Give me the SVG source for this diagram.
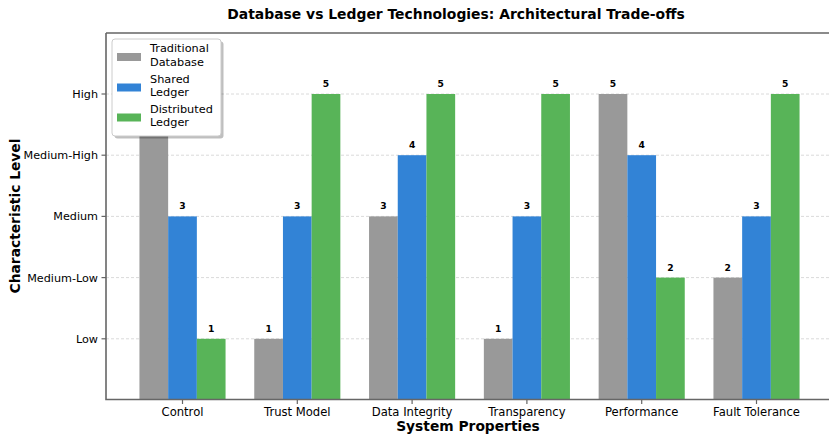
<svg xmlns="http://www.w3.org/2000/svg" width="829" height="436" viewBox="0 0 829 436">
<style>
text{font-family:"DejaVu Sans","Liberation Sans",sans-serif;fill:#000}
.title{font-size:13.9px;font-weight:bold}
.axlab{font-size:13.8px;font-weight:bold}
.tick{font-size:11.6px}
.ytick{font-size:11.2px}
.val{font-size:9.2px;font-weight:bold;text-anchor:middle}
.leg{font-size:11.3px}
.grid{stroke:#dadada;stroke-width:1;stroke-dasharray:3,2}
.spine{stroke:#666;stroke-width:1.6;fill:none}
.tk{stroke:#666;stroke-width:1.2}
.g{fill:#999999}
.b{fill:#3283d6}
.gr{fill:#58b458}
</style>
<rect width="829" height="436" fill="#fff"/>
<text class="title" x="456" y="19" text-anchor="middle">Database vs Ledger Technologies: Architectural Trade-offs</text>
<g id="grid">
<line class="grid" x1="106" y1="94" x2="829" y2="94"/>
<line class="grid" x1="106" y1="155.2" x2="829" y2="155.2"/>
<line class="grid" x1="106" y1="216.4" x2="829" y2="216.4"/>
<line class="grid" x1="106" y1="277.6" x2="829" y2="277.6"/>
<line class="grid" x1="106" y1="338.8" x2="829" y2="338.8"/>
</g>
<g id="bars">
<g id="control">
<rect class="g" x="139.45" y="94" width="28.7" height="306"/>
<rect class="b" x="168.15" y="216.4" width="28.7" height="183.6"/>
<rect class="gr" x="196.85" y="338.8" width="28.7" height="61.2"/>
<text class="val" x="182.5" y="209.4">3</text>
<text class="val" x="211.2" y="331.8">1</text>
</g>
<g id="trust-model">
<rect class="g" x="254.25" y="338.8" width="28.7" height="61.2"/>
<rect class="b" x="282.95" y="216.4" width="28.7" height="183.6"/>
<rect class="gr" x="311.65" y="94" width="28.7" height="306"/>
<text class="val" x="268.6" y="331.8">1</text>
<text class="val" x="297.3" y="209.4">3</text>
<text class="val" x="326" y="87">5</text>
</g>
<g id="data-integrity">
<rect class="g" x="369.05" y="216.4" width="28.7" height="183.6"/>
<rect class="b" x="397.75" y="155.2" width="28.7" height="244.8"/>
<rect class="gr" x="426.45" y="94" width="28.7" height="306"/>
<text class="val" x="383.4" y="209.4">3</text>
<text class="val" x="412.1" y="148.2">4</text>
<text class="val" x="440.8" y="87">5</text>
</g>
<g id="transparency">
<rect class="g" x="483.85" y="338.8" width="28.7" height="61.2"/>
<rect class="b" x="512.55" y="216.4" width="28.7" height="183.6"/>
<rect class="gr" x="541.25" y="94" width="28.7" height="306"/>
<text class="val" x="498.2" y="331.8">1</text>
<text class="val" x="526.9" y="209.4">3</text>
<text class="val" x="555.6" y="87">5</text>
</g>
<g id="performance">
<rect class="g" x="598.65" y="94" width="28.7" height="306"/>
<rect class="b" x="627.35" y="155.2" width="28.7" height="244.8"/>
<rect class="gr" x="656.05" y="277.6" width="28.7" height="122.4"/>
<text class="val" x="613" y="87">5</text>
<text class="val" x="641.7" y="148.2">4</text>
<text class="val" x="670.4" y="270.6">2</text>
</g>
<g id="fault-tolerance">
<rect class="g" x="713.45" y="277.6" width="28.7" height="122.4"/>
<rect class="b" x="742.15" y="216.4" width="28.7" height="183.6"/>
<rect class="gr" x="770.85" y="94" width="28.7" height="306"/>
<text class="val" x="727.8" y="270.6">2</text>
<text class="val" x="756.5" y="209.4">3</text>
<text class="val" x="785.2" y="87">5</text>
</g>
</g>
<g id="axes">
<path class="spine" d="M106,33 H830 M106,33 V399.5 H830"/>
<g class="tk">
<line x1="101.5" y1="94" x2="106" y2="94"/>
<line x1="101.5" y1="155.2" x2="106" y2="155.2"/>
<line x1="101.5" y1="216.4" x2="106" y2="216.4"/>
<line x1="101.5" y1="277.6" x2="106" y2="277.6"/>
<line x1="101.5" y1="338.8" x2="106" y2="338.8"/>
<line x1="182.5" y1="399.5" x2="182.5" y2="404"/>
<line x1="297.3" y1="399.5" x2="297.3" y2="404"/>
<line x1="412.1" y1="399.5" x2="412.1" y2="404"/>
<line x1="526.9" y1="399.5" x2="526.9" y2="404"/>
<line x1="641.7" y1="399.5" x2="641.7" y2="404"/>
<line x1="756.5" y1="399.5" x2="756.5" y2="404"/>
</g>
<g class="ytick" text-anchor="end">
<text x="98" y="98">High</text>
<text x="98" y="159.2">Medium-High</text>
<text x="98" y="220.4">Medium</text>
<text x="98" y="281.6">Medium-Low</text>
<text x="98" y="342.8">Low</text>
</g>
<g class="tick" text-anchor="middle">
<text x="182.5" y="416">Control</text>
<text x="297.3" y="416">Trust Model</text>
<text x="412.1" y="416">Data Integrity</text>
<text x="526.9" y="416">Transparency</text>
<text x="641.7" y="416">Performance</text>
<text x="756.5" y="416">Fault Tolerance</text>
</g>
<text class="axlab" x="468" y="431" text-anchor="middle">System Properties</text>
<text class="axlab" transform="translate(19.5,216) rotate(-90)" text-anchor="middle">Characteristic Level</text>
</g>
<g id="legend">
<rect x="114.5" y="41.5" width="109" height="97" rx="3" fill="#000" opacity="0.25"/>
<rect x="112" y="39" width="109" height="97" rx="3" fill="#fff" stroke="#cccccc" stroke-width="1"/>
<rect class="g" x="117" y="53" width="24" height="8"/>
<rect class="b" x="117" y="83.5" width="24" height="8"/>
<rect class="gr" x="117" y="113.5" width="24" height="8"/>
<g class="leg">
<text x="150" y="52">Traditional</text>
<text x="150" y="65.5">Database</text>
<text x="150" y="82.5">Shared</text>
<text x="150" y="96">Ledger</text>
<text x="150" y="112.5">Distributed</text>
<text x="150" y="126">Ledger</text>
</g>
</g>
</svg>
